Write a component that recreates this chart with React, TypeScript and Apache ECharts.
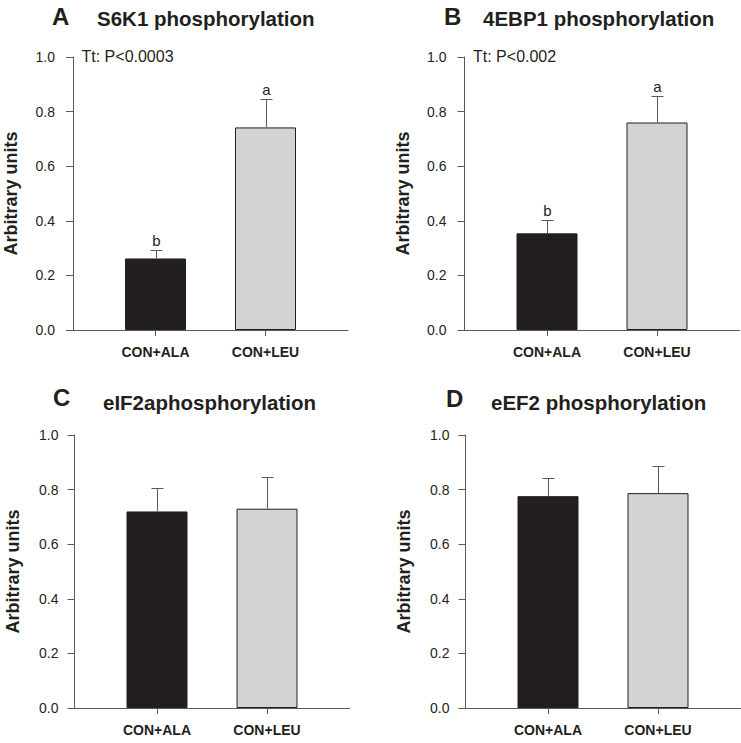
import React, { useEffect, useRef } from "react";
import * as echarts from "echarts";

const categories = ["CON+ALA", "CON+LEU"];
const panelLetters = ["A", "B", "C", "D"];
const panelTitles = [
  "S6K1 phosphorylation",
  "4EBP1 phosphorylation",
  "eIF2aphosphorylation",
  "eEF2 phosphorylation",
];
const pValueTexts = ["Tt: P<0.0003", "Tt: P<0.002", "", ""];
// means per panel: [CON+ALA, CON+LEU]
const meansA = [0.262, 0.742];
const meansB = [0.354, 0.76];
const meansC = [0.72, 0.73];
const meansD = [0.776, 0.787];
// SEM per panel
const semA = [0.03, 0.104];
const semB = [0.048, 0.098];
const semC = [0.087, 0.117];
const semD = [0.068, 0.1];
const sigLetters = [
  ["b", "a"],
  ["b", "a"],
  ["", ""],
  ["", ""],
];

const allMeans = [meansA, meansB, meansC, meansD];
const allSem = [semA, semB, semC, semD];

// layout
const gridLeft = [73, 464.5, 74.5, 465.5];
const gridTop = [57, 57, 435, 435];
const gridW = 275;
const gridH = 273;
const catPos = [0.3, 0.7];
const labelMargin = [18, 18, 16, 16];
const letterX = [52, 444, 53, 446];
const letterY = [17, 17, 398, 399];
const titleX = [97, 483, 103, 491];
const titleY = [19, 19, 403, 403];

const DARK = "#231f20";
const AXIS = "#58595b";
const GRAY = "#d1d3d4";
const FONT = "'Liberation Sans', Arial, Helvetica, sans-serif";

export default function App() {
  const ref = useRef<HTMLDivElement>(null);
  useEffect(() => {
    if (!ref.current) return;
    const chart = echarts.init(ref.current, undefined, { renderer: "svg" });

    const grid: any[] = [];
    const xAxis: any[] = [];
    const yAxis: any[] = [];
    const series: any[] = [];
    const graphic: any[] = [];

    for (let p = 0; p < 4; p++) {
      grid.push({ left: gridLeft[p], top: gridTop[p], width: gridW, height: gridH, containLabel: false });
      xAxis.push({
        type: "value",
        gridIndex: p,
        min: 0,
        max: 1,
        splitLine: { show: false },
        axisLine: { show: true, lineStyle: { color: AXIS, width: 1 } },
        axisTick: { show: true, customValues: catPos, length: 6, lineStyle: { color: AXIS } },
        axisLabel: {
          show: true,
          customValues: catPos,
          margin: 15,
          fontSize: 14,
          fontWeight: "bold",
          fontFamily: FONT,
          color: DARK,
          formatter: (v: number) => {
            const i = catPos.findIndex((c) => Math.abs(c - v) < 1e-6);
            return i >= 0 ? categories[i] : "";
          },
        },
      });
      yAxis.push({
        type: "value",
        gridIndex: p,
        min: 0,
        max: 1,
        interval: 0.2,
        name: "Arbitrary units",
        nameLocation: "middle",
        nameGap: 53,
        nameTextStyle: { fontSize: 18, fontWeight: "bold", fontFamily: FONT, color: DARK },
        splitLine: { show: false },
        axisLine: { show: true, lineStyle: { color: AXIS, width: 1 } },
        axisTick: { show: true, length: 7, lineStyle: { color: AXIS } },
        axisLabel: {
          margin: labelMargin[p],
          fontSize: 14,
          fontFamily: FONT,
          color: DARK,
          formatter: (v: number) => v.toFixed(1),
        },
      });

      const means = allMeans[p];
      const sem = allSem[p];
      series.push({
        type: "bar",
        xAxisIndex: p,
        yAxisIndex: p,
        barWidth: 61,
        data: means.map((m, i) => ({
          value: [catPos[i], m],
          itemStyle: {
            color: i === 0 ? DARK : GRAY,
            borderColor: DARK,
            borderWidth: 1,
          },
        })),
        z: 2,
      });
      const pIdx = p;
      series.push({
        type: "custom",
        xAxisIndex: p,
        yAxisIndex: p,
        z: 3,
        data: means.map((m, i) => [catPos[i], m, m + sem[i]]),
        renderItem: (params: any, api: any) => {
          const x = api.value(0);
          const m = api.value(1);
          const t = api.value(2);
          const p0 = api.coord([x, m]);
          const p1 = api.coord([x, t]);
          const cx = Math.round(p0[0]) + 0.5;
          const yt = Math.round(p1[1]) + 0.5;
          const letter = sigLetters[pIdx][params.dataIndex];
          const children: any[] = [
            { type: "line", shape: { x1: cx, y1: p0[1], x2: cx, y2: yt }, style: { stroke: AXIS, lineWidth: 1 } },
            { type: "line", shape: { x1: cx - 6, y1: yt, x2: cx + 6, y2: yt }, style: { stroke: AXIS, lineWidth: 1 } },
          ];
          if (letter) {
            children.push({
              type: "text",
              style: {
                text: letter,
                x: cx,
                y: yt - 3,
                textAlign: "center",
                textVerticalAlign: "bottom",
                fontSize: 15,
                fontFamily: FONT,
                fill: DARK,
              },
            });
          }
          return { type: "group", children };
        },
      });

      graphic.push({
        type: "text",
        left: letterX[p],
        top: letterY[p] - 13,
        style: { text: panelLetters[p], fontSize: 24, fontWeight: "bold", fontFamily: FONT, fill: DARK },
      });
      graphic.push({
        type: "text",
        left: titleX[p],
        top: titleY[p] - 11,
        style: { text: panelTitles[p], fontSize: 20.5, fontWeight: "bold", fontFamily: FONT, fill: DARK },
      });
      if (pValueTexts[p]) {
        graphic.push({
          type: "text",
          left: gridLeft[p] + 8.5,
          top: gridTop[p] - 9,
          style: { text: pValueTexts[p], fontSize: 16, fontFamily: FONT, fill: DARK },
        });
      }
    }

    chart.setOption({
      animation: false,
      backgroundColor: "#fff",
      grid,
      xAxis,
      yAxis,
      series,
      graphic,
    });
    return () => chart.dispose();
  }, []);
  return <div ref={ref} style={{ position: "fixed", left: 0, top: 0, width: 741, height: 743 }} />;
}
